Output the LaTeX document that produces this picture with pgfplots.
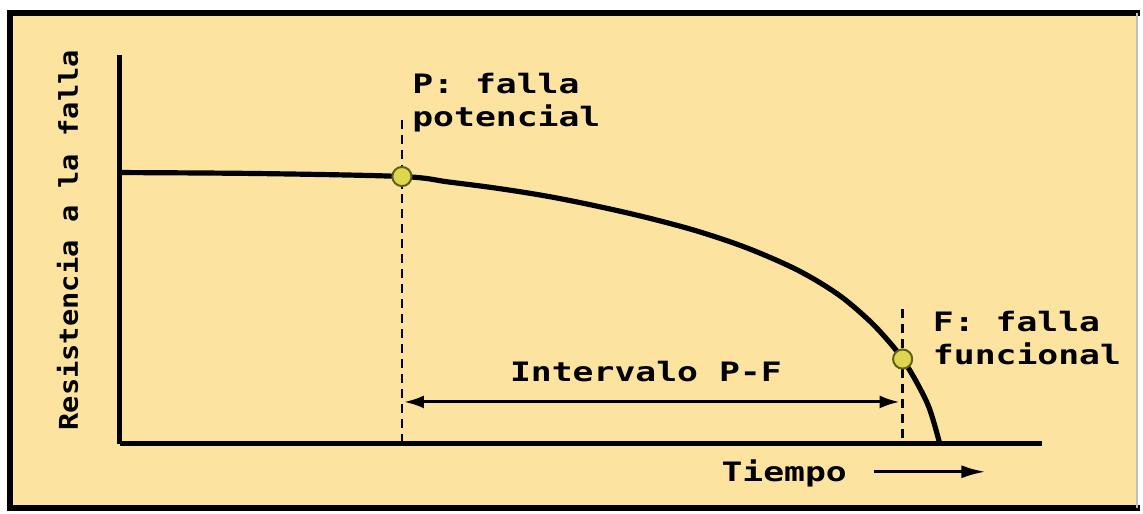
\documentclass[border=0pt]{standalone}
\usepackage{pgfplots}
\pgfplotsset{compat=1.18}
\usepackage{fontspec}
\usepackage{graphicx}
\usetikzlibrary{arrows.meta}
\newfontfamily\mono{DejaVu Sans Mono}
\definecolor{bgc}{RGB}{252,228,160}
\definecolor{mkfill}{RGB}{222,214,76}
\definecolor{mkdraw}{RGB}{95,95,30}
\newcommand{\txt}[1]{\scalebox{1}[0.77]{\mono\bfseries\fontsize{17.4pt}{20pt}\selectfont #1}}
\newcommand{\ytxt}[1]{\scalebox{1}[0.9]{\mono\bfseries\fontsize{14.4pt}{17pt}\selectfont #1}}
\begin{document}
\begin{tikzpicture}
\begin{axis}[
  set layers,
  x=0.5pt, y=0.5pt,
  xmin=120, xmax=1045, ymin=67, ymax=457,
  axis lines=left,
  axis line style={line width=2.5pt, -, black},
  xtick=\empty, ytick=\empty,
  clip=false,
]
\begin{pgfonlayer}{axis background}
\fill[white] (axis cs:0,0) rectangle (axis cs:1143,512);
\fill[bgc] (axis cs:10,3) rectangle (axis cs:1140,499);
\draw[line width=3pt, black] (axis cs:10,0) -- (axis cs:10,502);
\draw[line width=3pt, black] (axis cs:7,499) -- (axis cs:1143,499);
\draw[line width=3pt, black] (axis cs:7,3) -- (axis cs:1143,3);
\draw[line width=0.8pt, black!25] (axis cs:1140,3) -- (axis cs:1140,499);
\end{pgfonlayer}
% curve
\addplot[line width=2.6pt, black, smooth, tension=0.55] coordinates {
(120,339) (260,338) (403,335) (450,329.5) (500,323) (550,315) (600,305)
(650,293.5) (700,280) (750,263) (800,241) (840,217) (870,192) (890,171)
(905,152) (920,127) (932,102) (942,68)
};
% markers
\addplot[only marks, mark=*, mark size=4.8pt, mark options={fill=mkfill, draw=mkdraw, line width=1pt}]
coordinates {(403,335) (905,152)};
% dashed lines
\addplot[line width=1.3pt, black, dash pattern=on 4.5pt off 3pt] coordinates {(403,392) (403,67)};
\addplot[line width=1.3pt, black, dash pattern=on 4.5pt off 3pt] coordinates {(905,202) (905,67)};
% interval arrow
\addplot[line width=1.5pt, black, {Latex[length=10pt,width=6.5pt]}-{Latex[length=10pt,width=6.5pt]}] coordinates {(405,109) (902,109)};
% time arrow
\addplot[line width=1.4pt, black, -{Latex[length=12pt,width=6.5pt]}] coordinates {(876,39) (988,39)};
% texts
\node[anchor=base west, inner sep=0pt] at (axis cs:413,418) {\txt{P: falla}};
\node[anchor=base west, inner sep=0pt] at (axis cs:413,385) {\txt{potencial}};
\node[anchor=base west, inner sep=0pt] at (axis cs:935,180) {\txt{F: falla}};
\node[anchor=base west, inner sep=0pt] at (axis cs:935,147) {\txt{funcional}};
\node[anchor=base west, inner sep=0pt] at (axis cs:511,130) {\txt{Intervalo P-F}};
\node[anchor=base west, inner sep=0pt] at (axis cs:723,29) {\txt{Tiempo}};
\node[rotate=90, anchor=base west, inner sep=0pt] at (axis cs:78,80) {\ytxt{Resistencia a la falla}};
\end{axis}
\end{tikzpicture}
\end{document}
